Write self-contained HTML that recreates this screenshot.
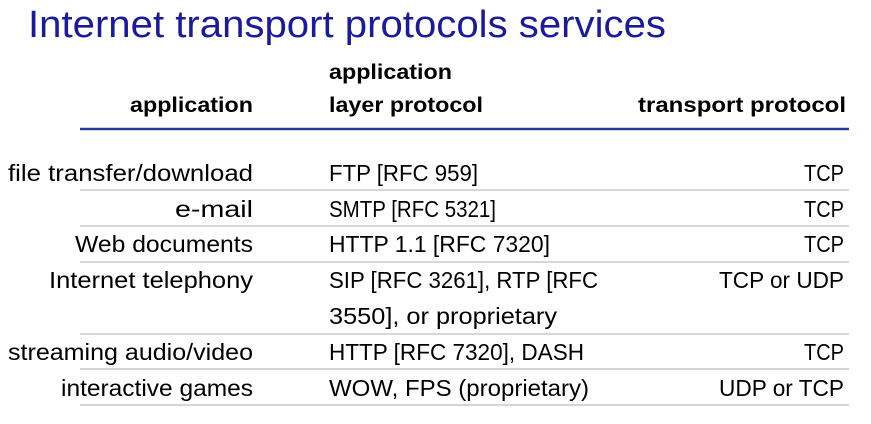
<!DOCTYPE html>
<html><head><meta charset="utf-8"><style>
html,body{margin:0;padding:0;background:#fff;width:871px;height:424px;overflow:hidden}
svg{display:block}
text{font-family:"Liberation Sans",sans-serif}
</style></head><body>
<svg width="871" height="424" xmlns="http://www.w3.org/2000/svg">
<text x="28" y="37" font-size="38" fill="#1a1a9c" textLength="638" lengthAdjust="spacingAndGlyphs">Internet transport protocols services</text>
<g font-size="21" font-weight="bold" fill="#000">
<text x="130" y="112" textLength="123" lengthAdjust="spacingAndGlyphs">application</text>
<text x="329" y="79" textLength="123" lengthAdjust="spacingAndGlyphs">application</text>
<text x="329" y="112" textLength="154" lengthAdjust="spacingAndGlyphs">layer protocol</text>
<text x="638" y="112" textLength="208" lengthAdjust="spacingAndGlyphs">transport protocol</text>
</g>
<line x1="80" y1="129" x2="849" y2="129" stroke="#2a3a9a" stroke-width="2.5"/>
<g stroke="#c8c8c8" stroke-width="1.5">
<line x1="80" y1="190" x2="849" y2="190"/>
<line x1="80" y1="226" x2="849" y2="226"/>
<line x1="80" y1="262" x2="849" y2="262"/>
<line x1="80" y1="334" x2="849" y2="334"/>
<line x1="80" y1="369" x2="849" y2="369"/>
<line x1="80" y1="405" x2="849" y2="405"/>
</g>
<g font-size="23" fill="#000">
<text x="8" y="181" textLength="245" lengthAdjust="spacingAndGlyphs">file transfer/download</text>
<text x="175" y="217" textLength="78" lengthAdjust="spacingAndGlyphs">e-mail</text>
<text x="75" y="252" textLength="178" lengthAdjust="spacingAndGlyphs">Web documents</text>
<text x="49" y="288" textLength="204" lengthAdjust="spacingAndGlyphs">Internet telephony</text>
<text x="8" y="360" textLength="245" lengthAdjust="spacingAndGlyphs">streaming audio/video</text>
<text x="61" y="396" textLength="192" lengthAdjust="spacingAndGlyphs">interactive games</text>

<text x="329" y="181" textLength="149" lengthAdjust="spacingAndGlyphs">FTP [RFC 959]</text>
<text x="329" y="217" textLength="167" lengthAdjust="spacingAndGlyphs">SMTP [RFC 5321]</text>
<text x="329" y="252" textLength="221" lengthAdjust="spacingAndGlyphs">HTTP 1.1 [RFC 7320]</text>
<text x="329" y="288" textLength="269" lengthAdjust="spacingAndGlyphs">SIP [RFC 3261], RTP [RFC</text>
<text x="329" y="324" textLength="228" lengthAdjust="spacingAndGlyphs">3550], or proprietary</text>
<text x="329" y="360" textLength="255" lengthAdjust="spacingAndGlyphs">HTTP [RFC 7320], DASH</text>
<text x="329" y="396" textLength="260" lengthAdjust="spacingAndGlyphs">WOW, FPS (proprietary)</text>

<text x="804" y="181" textLength="40" lengthAdjust="spacingAndGlyphs">TCP</text>
<text x="804" y="217" textLength="40" lengthAdjust="spacingAndGlyphs">TCP</text>
<text x="804" y="252" textLength="40" lengthAdjust="spacingAndGlyphs">TCP</text>
<text x="719" y="288" textLength="125" lengthAdjust="spacingAndGlyphs">TCP or UDP</text>
<text x="804" y="360" textLength="40" lengthAdjust="spacingAndGlyphs">TCP</text>
<text x="719" y="396" textLength="125" lengthAdjust="spacingAndGlyphs">UDP or TCP</text>
</g>
</svg>
</body></html>
